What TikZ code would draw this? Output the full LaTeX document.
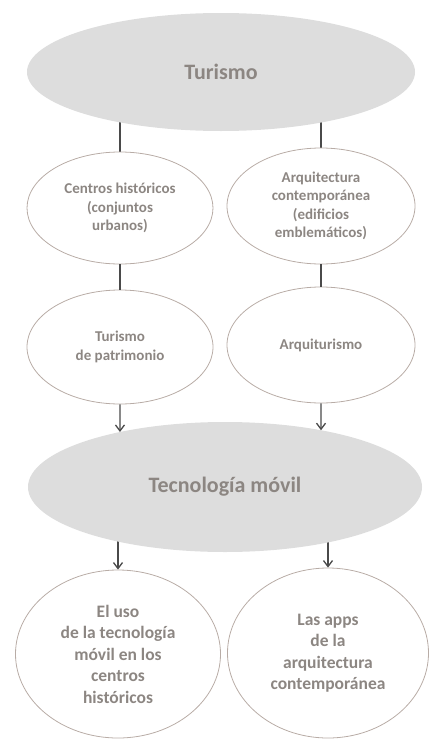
\documentclass[tikz,border=0pt]{standalone}
\usepackage{fontspec}
\setmainfont{Carlito}
\usetikzlibrary{shapes.geometric,intersections,backgrounds,arrows.meta}

\definecolor{inkgray}{HTML}{8C8682}
\definecolor{rimgray}{HTML}{B8ACA6}
\definecolor{cloudgray}{HTML}{DDDDDD}
\definecolor{wiregray}{HTML}{4A4A4A}

\begin{document}
\begin{tikzpicture}[
            x=1pt, y=-1pt,
            hub/.style={
              ellipse, fill=cloudgray, inner sep=0pt,
              text=inkgray, font=\bfseries\fontsize{22}{26}\selectfont
            },
            leaf/.style={
              ellipse, draw=rimgray, line width=0.8pt, inner sep=0pt,
              align=center, text=inkgray,
              font=\bfseries\fontsize{15}{18.5}\selectfont
            },
            bigleaf/.style={
              leaf, font=\bfseries\fontsize{17.5}{21.5}\selectfont
            },
            wire/.style={draw=wiregray, line width=1.3pt},
            arrowed/.style={-{Straight Barb[length=6pt,width=9pt]}}
        ]
    \useasboundingbox (0,0) rectangle (430,739);

    \node[hub, minimum width=388pt, minimum height=118pt] (turismo) at (221,72) {Turismo};
    \node[hub, name path=tecrim, minimum width=394pt, minimum height=130pt] (tecno) at (225,487) {Tecnología móvil};

    \node[leaf, minimum width=186pt, minimum height=112pt] (centros) at (120,208)
        {Centros históricos\\(conjuntos\\urbanos)};
    \node[leaf, minimum width=188pt, minimum height=116pt] (arqcont) at (321,206)
        {Arquitectura\\contemporánea\\(edificios\\emblemáticos)};
    \node[leaf, minimum width=186pt, minimum height=114pt] (patr) at (120,347)
        {Turismo\\de patrimonio};
    \node[leaf, minimum width=188pt, minimum height=116pt] (arqtur) at (321,345)
        {Arquiturismo};
    \node[bigleaf, minimum width=205pt, minimum height=168pt] (usos) at (118,654)
        {El uso\\de la tecnología\\móvil en los\\centros\\históricos};
    \node[bigleaf, minimum width=201pt, minimum height=170pt] (apps) at (328,653)
        {Las apps\\de la\\arquitectura\\contemporánea};

    \begin{scope}[on background layer]
      \foreach \n in {centros, arqcont}
        \draw[wire] (\n.north |- turismo.center) -- (\n.north);
      \foreach \n in {usos, apps}
        \draw[wire, arrowed] (\n.north |- tecno.center) -- (\n.north);
    \end{scope}

    \foreach \a/\b in {centros/patr, arqcont/arqtur}
      \draw[wire] (\a.south) -- (\b.north);

    \foreach \n in {patr, arqtur} {
      \path[name path=drop] (\n.south) -- (\n.south |- tecno.center);
      \draw[wire, arrowed, name intersections={of=drop and tecrim}] (\n.south) -- (intersection-1);
    }

    \end{tikzpicture}
\end{document}
